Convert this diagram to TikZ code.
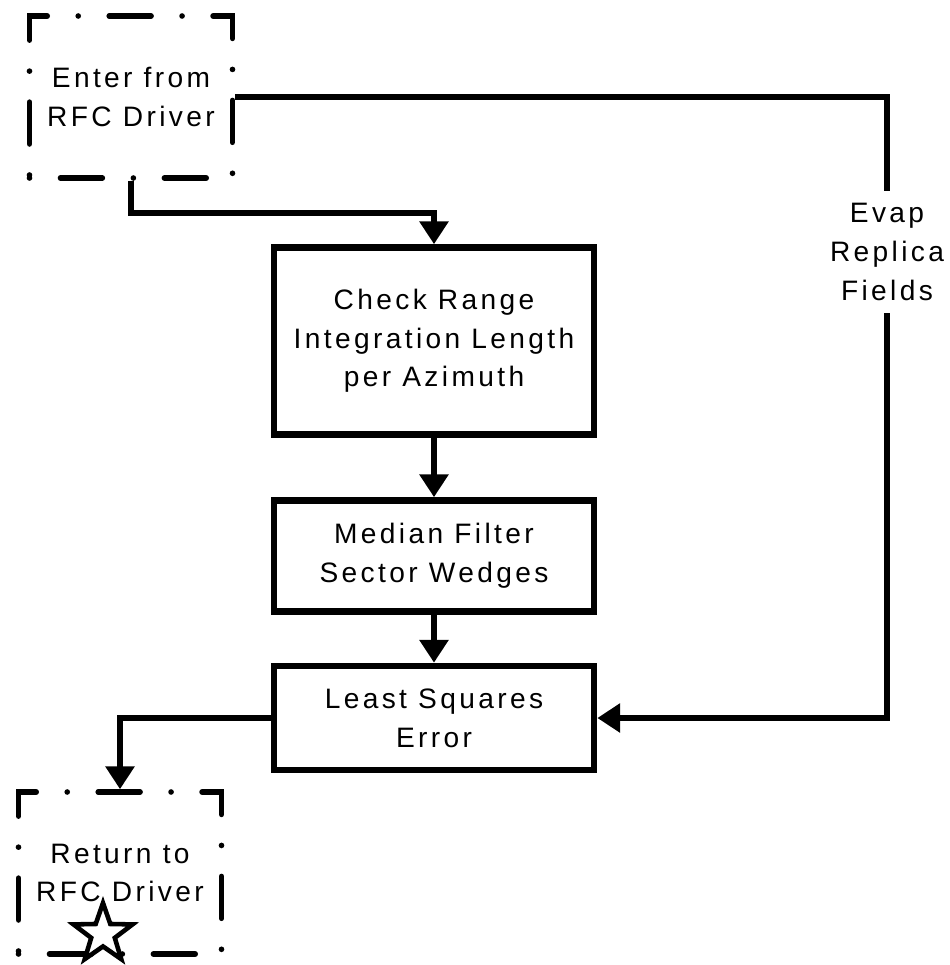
\documentclass[tikz,border=0pt]{standalone}
\usepackage{fontspec}
\setmainfont{Liberation Sans}[LetterSpace=12]
\usetikzlibrary{arrows.meta,shapes.geometric}

\begin{document}
\begin{tikzpicture}[x=0.2mm,y=-0.2mm,
		font=\fontsize{16}{22}\selectfont,
		block/.style={draw, line width=3.8pt, align=center, inner sep=0pt, minimum width=64mm},
		driver/.style={draw, line width=3.2pt, line cap=round, dash pattern=on 0pt off 17.65pt on 23.8pt off 17.65pt, align=center, inner sep=0pt, minimum width=40.6mm, minimum height=32.4mm},
		flow/.style={line width=3.2pt, -{Triangle[length=13pt,width=16pt]}}]
		\useasboundingbox (0,0) rectangle (950,965);
		% entry and exit
		\node[driver] (enter) at (131,97) {Enter from\\RFC Driver};
		\node[driver] (ret) at (120,873) {Return to\\RFC Driver};
		\node[star, star points=5, star point ratio=2.5, draw, line width=2.6pt, fill=white, inner sep=0pt, minimum size=12.4mm] (mark) at (103,934) {};
		% processing steps
		\foreach \y/\alph/\name/\h in {
			341/check/{Check Range\\Integration Length\\per Azimuth}/37.4mm,
			556/median/{Median Filter\\Sector Wedges}/22.2mm,
			718/lsq/{Least Squares\\Error}/20.8mm
		}{
			\node[block, minimum height=\h] (\alph) at (434,\y) {\name};
		}
		\node[align=center, inner xsep=0pt, inner ysep=2.5mm] (evap) at (887,252) {Evap\\Replica\\Fields};
		% connectors
		\draw[flow] (enter.south) -- ++(0,32) -| (check.north);
		\draw[flow] (check) -- (median);
		\draw[flow] (median) -- (lsq);
		\draw[flow] (lsq.west) -| (ret.north);
		\draw[line width=3.2pt] (enter.east) -| (evap.north);
		\draw[flow] (evap.south) |- (lsq.east);
	\end{tikzpicture}
\end{document}
